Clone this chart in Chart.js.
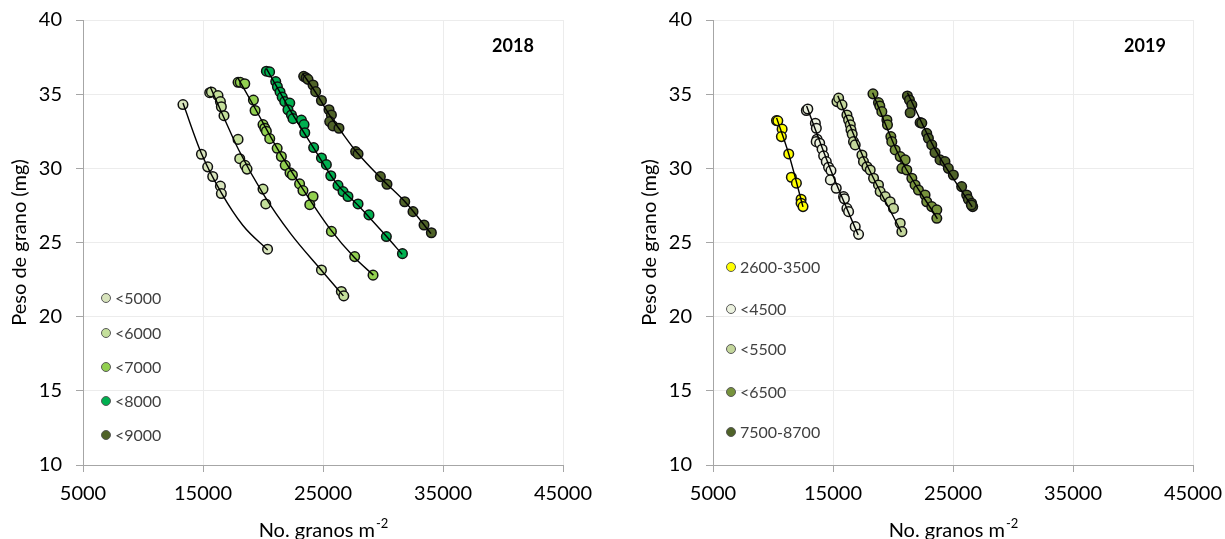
<!DOCTYPE html>
<html>
<head>
<meta charset="utf-8">
<script src="https://cdn.jsdelivr.net/npm/chart.js@4.4.1/dist/chart.umd.min.js"></script>
<style>
  html, body { margin: 0; padding: 0; background: #ffffff; overflow: hidden; }
  .panel { position: absolute; top: 0; }
  #wrapA { left: 0; }
  #wrapB { left: 630px; }
</style>
</head>
<body>
<div class="panel" id="wrapA"><canvas id="c2018" width="595" height="539"></canvas></div>
<div class="panel" id="wrapB"><canvas id="c2019" width="595" height="539"></canvas></div>
<script>
// ---- Axis ticks ----
const xTicks = [5000, 15000, 25000, 35000, 45000];
const yTicks = [10, 15, 20, 25, 30, 35, 40];

// ---- 2018: grain number (x) vs grain weight mg (y), by class ----
const labels2018 = ['<5000', '<6000', '<7000', '<8000', '<9000'];
const colors2018 = ['#d8e4bc', '#c4df9b', '#92d050', '#00b050', '#4f6228'];

const a18_5000 = [[13330,34.3],[14870,30.95],[15390,30.1],[15810,29.45],[16450,28.8],[16530,28.3],[20380,24.55]];
const a18_6000 = [[15560,35.1],[15700,35.15],[16250,34.9],[16450,34.5],[16530,34.15],[16750,33.55],[17920,31.95],
  [18060,30.65],[18500,30.2],[18670,29.95],[20000,28.6],[20230,27.6],[24870,23.15],[26530,21.7],[26730,21.4]];
const a18_7000 = [[17920,35.8],[18100,35.8],[18480,35.7],[19200,34.6],[19340,33.9],[20000,32.95],[20150,32.7],
  [20280,32.5],[20560,32.0],[21180,31.35],[21530,30.8],[21850,30.2],[22250,29.7],[22450,29.55],[23050,28.95],
  [23330,28.5],[24170,28.1],[23900,27.55],[25700,25.75],[27640,24.05],[29170,22.8]];
const a18_8000 = [[20280,36.55],[20550,36.5],[21060,35.85],[21200,35.5],[21420,35.15],[21600,34.8],[21810,34.5],
  [22230,34.4],[22080,33.95],[22370,33.6],[22500,33.35],[23200,33.25],[23420,32.95],[23480,32.4],[24220,31.4],
  [24870,30.7],[25280,30.25],[25650,29.5],[26250,28.85],[26670,28.43],[27080,28.1],[27920,27.6],[28830,26.86],
  [30280,25.4],[31620,24.25]];
const a18_9000 = [[23390,36.2],[23600,36.1],[23750,36.0],[24170,35.62],[24390,35.17],[24870,34.57],[25500,33.95],
  [25700,33.6],[25560,33.15],[25830,32.86],[26330,32.7],[27720,31.13],[27920,30.97],[29780,29.44],[30330,28.93],
  [31810,27.75],[32500,27.08],[33420,26.18],[34030,25.66]];

// fitted curves for each 2018 class
const f18_5000 = [[13330,34.4],[14870,31.0],[16530,28.35],[18330,26.15],[20390,24.5]];
const f18_6000 = [[15600,35.5],[16700,33.5],[18000,31.2],[20000,28.3],[22300,25.6],[24900,23.1],[26700,21.4]];
const f18_7000 = [[17900,36.1],[19300,34.1],[21000,31.6],[23000,29.0],[25600,25.9],[27600,24.0],[29200,22.8]];
const f18_8000 = [[20300,36.7],[21500,35.0],[22500,33.6],[24200,31.4],[26200,28.9],[28000,27.45],[30300,25.4],[31600,24.2]];
const f18_9000 = [[23300,36.4],[24400,35.1],[25700,33.4],[26500,32.5],[27800,31.1],[30000,29.2],[32000,27.6],[34000,25.6]];

// ---- 2019 ----
const labels2019 = ['2600-3500', '<4500', '<5500', '<6500', '7500-8700'];
const colors2019 = ['#ffff00', '#ebf1de', '#c3d69b', '#77933c', '#4f6228'];

const a19_3500 = [[10290,33.22],[10400,33.2],[10760,32.64],[10700,32.14],[11310,30.97],[11530,29.4],[11950,29.0],
  [12340,27.92],[12340,27.65],[12500,27.42]];
const a19_4500 = [[12780,33.9],[12900,34.0],[13530,33.04],[13610,32.7],[13670,31.96],[13600,31.8],[13890,31.69],
  [14090,31.29],[14220,30.84],[14440,30.45],[14630,30.07],[14830,29.85],[14780,29.22],[15270,28.66],[15880,28.09],
  [15950,27.95],[16160,27.3],[16300,27.08],[16850,26.07],[17130,25.55]];
const a19_5500 = [[15330,34.5],[15470,34.73],[15750,34.28],[16160,33.6],[16300,33.26],[16440,32.93],[16500,32.59],
  [16600,32.3],[16710,31.8],[16850,31.58],[17410,30.9],[17540,30.45],[17830,30.11],[18100,29.89],[18380,29.33],
  [18790,28.88],[18930,28.43],[19350,28.09],[19760,27.75],[20040,27.3],[20600,26.3],[20740,25.73]];
const a19_6500 = [[18330,35.02],[18790,34.43],[18900,34.2],[19070,33.82],[19490,33.26],[19540,32.93],[19820,32.14],
  [19900,31.8],[20180,31.24],[20600,30.79],[21010,30.57],[20740,30.0],[21150,29.89],[21570,29.33],[21840,28.88],
  [22120,28.54],[22670,28.2],[22810,27.75],[23230,27.42],[23650,27.2],[23650,26.63]];
const a19_8700 = [[21200,34.88],[21370,34.61],[21570,34.28],[21430,33.75],[22260,33.08],[22400,33.05],[22810,32.36],
  [22950,32.03],[23230,31.58],[23500,31.06],[23920,30.57],[24330,30.45],[24610,30.0],[25030,29.55],[25720,28.77],
  [26140,28.2],[26280,27.91],[26550,27.65],[26640,27.42],[26530,27.53]];

const f19_3500 = [[10300,33.4],[11300,31.0],[12500,27.4]];
const f19_4500 = [[12800,34.2],[14800,29.9],[17100,25.5]];
const f19_5500 = [[15400,34.9],[17500,30.8],[20700,25.7]];
const f19_6500 = [[18300,35.1],[20600,30.7],[23700,26.6]];
const f19_8700 = [[21200,35.1],[23500,31.3],[26600,27.4]];

Chart.defaults.font.family = 'Lato, "Open Sans", sans-serif';
Chart.defaults.color = '#000000';

const toXY = arr => arr.map(p => ({ x: p[0], y: p[1] }));

// Year tag, in-plot legend and axis titles
const decorations = {
  id: 'decorations',
  afterDatasetsDraw(chart, args, o) {
    const ctx = chart.ctx, a = chart.chartArea;
    ctx.save();
    // year tag
    ctx.font = 'bold 18px Lato';
    ctx.fillStyle = '#000';
    ctx.textAlign = 'center';
    ctx.textBaseline = 'middle';
    ctx.fillText(o.year, o.yearX, o.yearY);
    // legend
    ctx.font = '16px Lato';
    ctx.textAlign = 'left';
    o.labels.forEach((t, i) => {
      const y = o.legendYs[i];
      ctx.beginPath();
      ctx.arc(o.legendX, y, 4.5, 0, Math.PI * 2);
      ctx.fillStyle = o.colors[i];
      ctx.fill();
      ctx.lineWidth = 1;
      ctx.strokeStyle = '#595959';
      ctx.stroke();
      ctx.fillStyle = '#404040';
      ctx.fillText(t, o.legendX + 9, y + 1);
    });
    // y axis title
    ctx.save();
    ctx.translate(20, (a.top + a.bottom) / 2);
    ctx.rotate(-Math.PI / 2);
    ctx.font = '20px Lato';
    ctx.fillStyle = '#000';
    ctx.textAlign = 'center';
    ctx.textBaseline = 'middle';
    ctx.fillText('Peso de grano (mg)', 0, 0);
    ctx.restore();
    // x axis title with superscript
    const main = 'No. granos m', sup = '-2';
    ctx.font = '20px Lato';
    const w1 = ctx.measureText(main).width;
    ctx.font = '13px Lato';
    const w2 = ctx.measureText(sup).width;
    const x0 = (a.left + a.right) / 2 - (w1 + w2) / 2;
    const base = 537;
    ctx.textAlign = 'left';
    ctx.textBaseline = 'alphabetic';
    ctx.fillStyle = '#000';
    ctx.font = '20px Lato';
    ctx.fillText(main, x0, base);
    ctx.font = '13px Lato';
    ctx.fillText(sup, x0 + w1 + 1, base - 9);
    ctx.restore();
  }
};

function buildChart(id, groups, curves, labels, colors, deco) {
  const datasets = [];
  groups.forEach((g, i) => {
    datasets.push({
      label: labels[i],
      data: toXY(g),
      backgroundColor: colors[i],
      borderColor: '#111111',
      borderWidth: 1.5,
      pointRadius: 4.8,
      showLine: false,
      order: 2
    });
  });
  curves.forEach((c, i) => {
    datasets.push({
      label: labels[i] + ' ajuste',
      data: toXY(c),
      showLine: true,
      borderColor: '#000000',
      borderWidth: 1.4,
      pointRadius: 0,
      cubicInterpolationMode: 'monotone',
      fill: false,
      order: 1
    });
  });

  return new Chart(document.getElementById(id), {
    type: 'scatter',
    data: { datasets },
    options: {
      responsive: false,
      devicePixelRatio: 1,
      animation: false,
      events: [],
      layout: { padding: { top: 20, right: 32, left: 0, bottom: 0 } },
      plugins: {
        legend: { display: false },
        tooltip: { enabled: false },
        decorations: deco
      },
      scales: {
        x: {
          type: 'linear',
          min: xTicks[0],
          max: xTicks[xTicks.length - 1],
          afterBuildTicks: s => { s.ticks = xTicks.map(v => ({ value: v })); },
          afterFit: s => { s.height = 74; s.paddingLeft = 0; s.paddingRight = 0; },
          ticks: {
            font: { size: 20 },
            color: '#000',
            padding: 10,
            maxRotation: 0,
            callback: v => String(v)
          },
          grid: { color: '#ececec', tickColor: '#a6a6a6', tickLength: 7, lineWidth: 1 },
          border: { display: true, color: '#a6a6a6', width: 1 }
        },
        y: {
          type: 'linear',
          min: yTicks[0],
          max: yTicks[yTicks.length - 1],
          afterBuildTicks: s => { s.ticks = yTicks.map(v => ({ value: v })); },
          afterFit: s => { s.width = 83; s.paddingTop = 0; s.paddingBottom = 0; },
          ticks: {
            font: { size: 20 },
            color: '#000',
            padding: 14,
            callback: v => String(v)
          },
          grid: { color: '#ececec', tickColor: '#a6a6a6', tickLength: 7, lineWidth: 1 },
          border: { display: true, color: '#a6a6a6', width: 1 }
        }
      }
    },
    plugins: [decorations]
  });
}

buildChart('c2018',
  [a18_5000, a18_6000, a18_7000, a18_8000, a18_9000],
  [f18_5000, f18_6000, f18_7000, f18_8000, f18_9000],
  labels2018, colors2018,
  { year: '2018', yearX: 513, yearY: 46, labels: labels2018, colors: colors2018,
    legendX: 106, legendYs: [298, 333, 367, 401, 435] });

buildChart('c2019',
  [a19_3500, a19_4500, a19_5500, a19_6500, a19_8700],
  [f19_3500, f19_4500, f19_5500, f19_6500, f19_8700],
  labels2019, colors2019,
  { year: '2019', yearX: 515, yearY: 46, labels: labels2019, colors: colors2019,
    legendX: 101, legendYs: [267, 309, 349, 392, 432] });
</script>
</body>
</html>
